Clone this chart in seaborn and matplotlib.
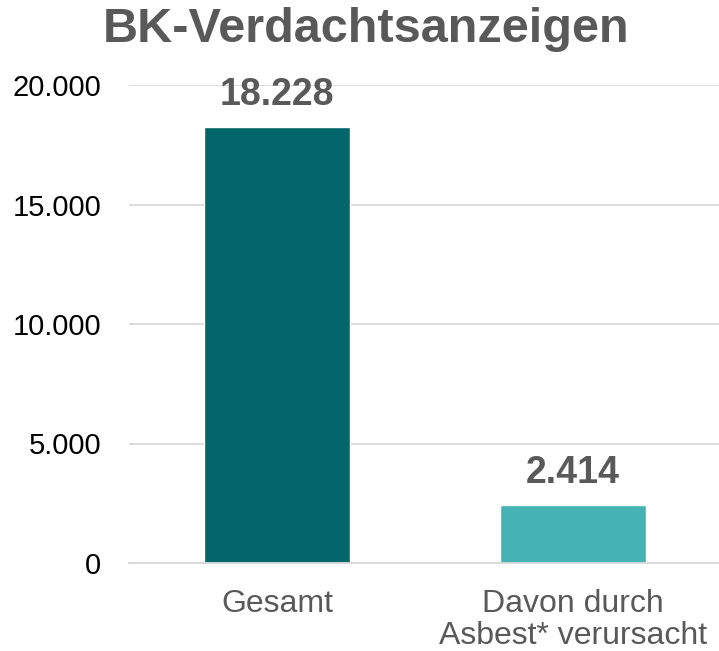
import matplotlib
matplotlib.use("Agg")
import matplotlib.pyplot as plt
import seaborn as sns
import pandas as pd
from matplotlib.ticker import FixedLocator

categories = ["Gesamt", "Davon durch\nAsbest* verursacht"]
values = [18228, 2414]
value_labels = ["18.228", "2.414"]
yticks = [0, 5000, 10000, 15000, 20000]
ytick_labels = ["0", "5.000", "10.000", "15.000", "20.000"]
colors = ["#02666B", "#45B3B4"]
title = "BK-Verdachtsanzeigen"

sns.set_theme(style="white")
plt.rcParams["font.family"] = ["Liberation Sans", "DejaVu Sans"]

df = pd.DataFrame({"cat": categories, "val": values})

fig = plt.figure(figsize=(7.19, 6.51), dpi=100)
ax = fig.add_axes([129/719, 1-563/651, (721-129)/719, (563-85)/651])

sns.barplot(data=df, x="cat", y="val", hue="cat", palette=colors, legend=False,
            width=0.49, ax=ax, saturation=1)

ax.set_ylim(0, 20000)
ax.set_xlim(-0.5, 1.5)
ax.set_yticks(yticks)
ax.set_yticklabels(ytick_labels)
ax.yaxis.grid(True, color="#D9D9D9", linewidth=1.3)
ax.set_axisbelow(True)
ax.set_xlabel("")
ax.set_ylabel("")

for s in ["left", "right", "top"]:
    ax.spines[s].set_visible(False)
ax.spines["bottom"].set_color("#D9D9D9")
ax.spines["bottom"].set_linewidth(1.3)

ax.tick_params(axis="y", length=0, pad=20, labelsize=21, labelcolor="black")
ax.tick_params(axis="x", which="major", length=0, pad=19, labelsize=23, labelcolor="#595959")
ax.xaxis.set_minor_locator(FixedLocator([-0.5, 0.5, 1.5]))
ax.tick_params(axis="x", which="minor", length=7, width=1.3, color="#D9D9D9", direction="out")
for lbl in ax.get_xticklabels():
    lbl.set_linespacing(1.05)

for i, (v, lab) in enumerate(zip(values, value_labels)):
    ax.annotate(lab, (i, v), xytext=(0, 10), textcoords="offset points",
                ha="center", va="bottom", fontsize=27, fontweight="bold", color="#595959")

fig.text(366/719, 1-30/651, title, ha="center", va="center", fontsize=35,
         fontweight="bold", color="#595959")

fig.savefig("out.png", dpi=100)
